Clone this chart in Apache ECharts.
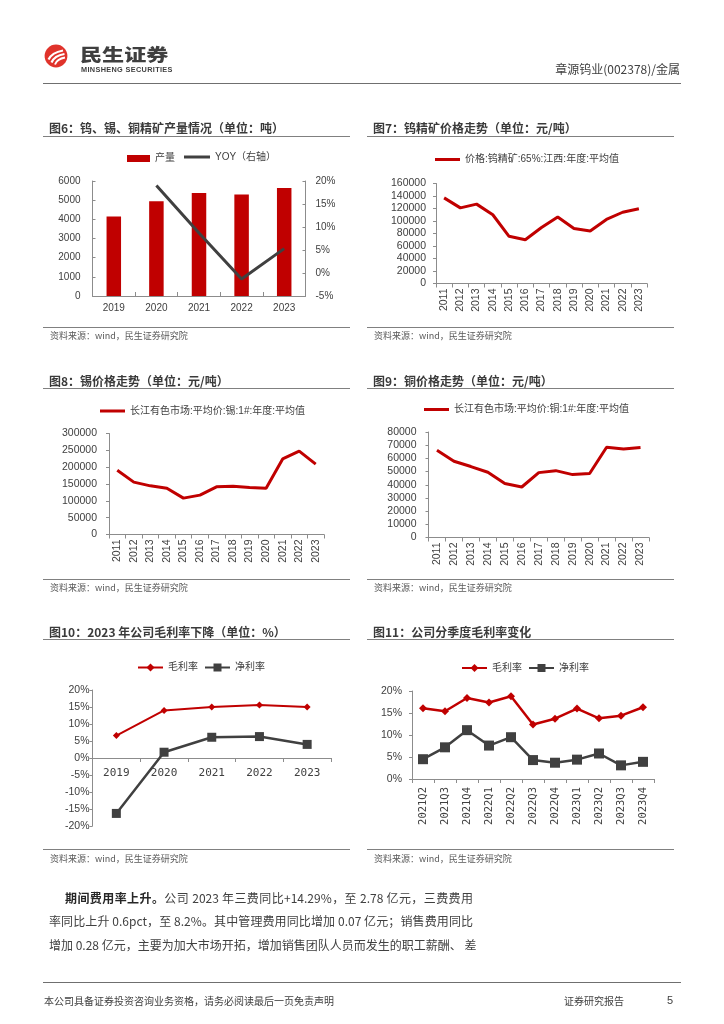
<!DOCTYPE html>
<html><head><meta charset="utf-8">
<script src="https://cdn.jsdelivr.net/npm/echarts@6/dist/echarts.min.js"></script>
<style>
html,body{margin:0;padding:0;background:#fff;}
#page{position:relative;width:724px;height:1024px;overflow:hidden;font-family:'Noto Sans CJK SC','Liberation Sans',sans-serif;color:#404040;}
#chart{position:absolute;left:0;top:0;width:724px;height:1024px;}
.t{position:absolute;white-space:nowrap;pointer-events:none;}
.hr{position:absolute;height:1px;background:#808080;}
.ttl{font-size:12px;font-weight:bold;line-height:16px;color:#3a3a3a;}
.src{font-size:9px;line-height:12px;color:#595959;}
.p{font-size:12px;line-height:18px;color:#404040;text-align:justify;text-align-last:justify;}
</style></head>
<body><div id="page">
<div id="chart"></div>

<svg class="t" style="left:44px;top:44px" width="24" height="24" viewBox="0 0 24 24">
<circle cx="12" cy="12" r="11.4" fill="#E0332B"/>
<path d="M4.5 15.5 Q8 8.5 19 6.5" stroke="#fff" stroke-width="2.2" fill="none"/>
<path d="M7.5 18.5 Q10.5 11.5 20.5 10" stroke="#fff" stroke-width="2.2" fill="none"/>
<path d="M11 20.5 Q13 15 21 13.5" stroke="#fff" stroke-width="2" fill="none"/>
</svg>
<div class="t" style="left:80px;top:44px;font-size:17px;line-height:20px;font-weight:900;color:#3f3f3f;transform:scale(1.3,1);transform-origin:0 0">民生证券</div>
<div class="t" style="left:81px;top:66px;font-size:7.3px;line-height:8px;font-weight:bold;color:#3f3f3f;letter-spacing:0.35px;font-family:'Liberation Sans',sans-serif;">MINSHENG SECURITIES</div>
<div class="t" style="right:44px;top:61px;font-size:12px;line-height:15px;color:#404040">章源钨业(002378)/金属</div>
<div class="hr" style="left:43px;top:83px;width:638px;background:#6f6f6f"></div>

<div class="t ttl" style="left:49px;top:120px">图6：钨、锡、铜精矿产量情况（单位：吨）</div>
<div class="hr" style="left:43px;top:136px;width:307px"></div>
<div class="t ttl" style="left:373px;top:120px">图7：钨精矿价格走势（单位：元/吨）</div>
<div class="hr" style="left:367px;top:136px;width:307px"></div>
<div class="hr" style="left:43px;top:327px;width:307px"></div>
<div class="t src" style="left:50px;top:330px">资料来源：wind，民生证券研究院</div>
<div class="hr" style="left:367px;top:327px;width:307px"></div>
<div class="t src" style="left:374px;top:330px">资料来源：wind，民生证券研究院</div>

<div class="t ttl" style="left:49px;top:373px">图8：锡价格走势（单位：元/吨）</div>
<div class="hr" style="left:43px;top:388px;width:307px"></div>
<div class="t ttl" style="left:373px;top:373px">图9：铜价格走势（单位：元/吨）</div>
<div class="hr" style="left:367px;top:388px;width:307px"></div>
<div class="hr" style="left:43px;top:579px;width:307px"></div>
<div class="t src" style="left:50px;top:582px">资料来源：wind，民生证券研究院</div>
<div class="hr" style="left:367px;top:579px;width:307px"></div>
<div class="t src" style="left:374px;top:582px">资料来源：wind，民生证券研究院</div>

<div class="t ttl" style="left:49px;top:624px">图10：2023 年公司毛利率下降（单位：%）</div>
<div class="hr" style="left:43px;top:639px;width:307px"></div>
<div class="t ttl" style="left:373px;top:624px">图11：公司分季度毛利率变化</div>
<div class="hr" style="left:367px;top:639px;width:307px"></div>
<div class="hr" style="left:43px;top:849px;width:307px"></div>
<div class="t src" style="left:50px;top:853px">资料来源：wind，民生证券研究院</div>
<div class="hr" style="left:367px;top:849px;width:307px"></div>
<div class="t src" style="left:374px;top:853px">资料来源：wind，民生证券研究院</div>

<div class="t p" style="left:65px;top:889px;width:408px"><b style="color:#262626">期间费用率上升。</b>公司 2023 年三费同比+14.29%，至 2.78 亿元，三费费用</div>
<div class="t p" style="left:49px;top:912px;width:424px">率同比上升 0.6pct，至 8.2%。其中管理费用同比增加 0.07 亿元；销售费用同比</div>
<div class="t p" style="left:49px;top:936px;width:424px">增加 0.28 亿元，主要为加大市场开拓，增加销售团队人员而发生的职工薪酬、 差</div>

<div class="hr" style="left:43px;top:982px;width:638px;background:#6f6f6f"></div>
<div class="t" style="left:44px;top:994px;font-size:10px;line-height:14px;color:#404040">本公司具备证券投资咨询业务资格，请务必阅读最后一页免责声明</div>
<div class="t" style="left:564px;top:994px;font-size:10px;line-height:14px;color:#404040">证券研究报告</div>
<div class="t" style="left:667px;top:993px;font-size:11px;line-height:14px;color:#404040;font-family:'Liberation Sans',sans-serif">5</div>
</div>
<script>
// ---- data ----
const fig6Years = ['2019','2020','2021','2022','2023'];
const fig6Output = [4150, 4940, 5370, 5300, 5630];
const fig6Yoy = [null, 19.0, 8.7, -1.3, 5.3];

const years13 = ['2011','2012','2013','2014','2015','2016','2017','2018','2019','2020','2021','2022','2023'];
const tungstenPrice = [137000, 121000, 127000, 110000, 75500, 70000, 89500, 106500, 88000, 84000, 102500, 114000, 119500];
const tinPrice = [191000, 155500, 144500, 137500, 108000, 117000, 141500, 143500, 139500, 137500, 224500, 247500, 209000];
const copperPrice = [66100, 57800, 53800, 49500, 40900, 38300, 49200, 50700, 47700, 48500, 68400, 67100, 68200];

const fig10Years = ['2019','2020','2021','2022','2023'];
const fig10Gross = [6.6, 14.0, 15.0, 15.6, 15.0];
const fig10Net = [-16.3, 1.7, 6.1, 6.3, 4.0];

const quarters = ['2021Q2','2021Q3','2021Q4','2022Q1','2022Q2','2022Q3','2022Q4','2023Q1','2023Q2','2023Q3','2023Q4'];
const qGross = [16.1, 15.4, 18.4, 17.4, 18.8, 12.4, 13.7, 16.0, 13.8, 14.4, 16.3];
const qNet = [4.5, 7.2, 11.1, 7.6, 9.5, 4.3, 3.7, 4.4, 5.8, 3.1, 3.9];

// ---- styles ----
const RED = '#C00000', DARK = '#404040', AX = '#8c8c8c', LBL = '#404040';
const FONT = "'Liberation Sans','Noto Sans CJK SC',sans-serif";
const MONO = "'DejaVu Sans Mono','Liberation Mono',monospace";
const plain = v => String(v);
const pct = v => v + '%';

function catX(grid, data, o) {
  return Object.assign({
    gridIndex: grid, type: 'category', data: data, boundaryGap: true,
    axisLine: {show: true, onZero: false, lineStyle: {color: AX, width: 1}},
    axisTick: {show: true, length: 4, lineStyle: {color: AX}},
    axisLabel: {color: LBL, fontSize: 10.5, fontFamily: FONT, rotate: 90, margin: 5}
  }, o || {});
}
function valY(grid, min, max, interval, o) {
  return Object.assign({
    gridIndex: grid, type: 'value', min: min, max: max, interval: interval,
    splitLine: {show: false},
    axisLine: {show: true, lineStyle: {color: AX, width: 1}},
    axisTick: {show: true, length: 3, lineStyle: {color: AX}},
    axisLabel: {color: LBL, fontSize: 10.5, fontFamily: FONT, margin: 10, formatter: plain}
  }, o || {});
}
function leg(name, left, top, o) {
  return Object.assign({
    data: [name], left: left, top: top, itemWidth: 25, itemHeight: 10, itemGap: 0,
    textStyle: {color: LBL, fontSize: 10, fontFamily: FONT}, selectedMode: false, padding: 0
  }, o || {});
}
const lineIcon = {icon: 'rect', itemWidth: 25, itemHeight: 3};

const chart = echarts.init(document.getElementById('chart'), null, {renderer: 'canvas'});
chart.setOption({
  animation: false,
  textStyle: {fontFamily: FONT},
  grid: [
    {left: 92.5, top: 181, width: 213, height: 115},
    {left: 436, top: 183.5, width: 211, height: 100},
    {left: 109, top: 433.5, width: 215, height: 101},
    {left: 428.5, top: 432, width: 220.5, height: 105.5},
    {left: 92.5, top: 690, width: 238.5, height: 136},
    {left: 412, top: 691, width: 242, height: 88}
  ],
  xAxis: [
    catX(0, fig6Years, {axisTick: {show: true, inside: true, length: 4, lineStyle: {color: AX}},
      axisLabel: {color: LBL, fontSize: 10, fontFamily: FONT, margin: 7}}),
    catX(1, years13),
    catX(2, years13),
    catX(3, years13),
    catX(4, fig10Years, {offset: -68,
      axisLabel: {color: LBL, fontSize: 11, fontFamily: MONO, margin: 10}}),
    catX(5, quarters, {axisLabel: {color: LBL, fontSize: 10.5, fontFamily: MONO, rotate: 90, margin: 8}})
  ],
  yAxis: [
    valY(0, 0, 6000, 1000, {axisTick: {show: true, inside: true, length: 3, lineStyle: {color: AX}},
      axisLabel: {color: LBL, fontSize: 10, fontFamily: FONT, margin: 12, formatter: plain}}),
    valY(0, -5, 20, 5, {position: 'right', axisTick: {show: true, inside: true, length: 3, lineStyle: {color: AX}},
      axisLabel: {color: LBL, fontSize: 10, fontFamily: FONT, margin: 10, formatter: pct}}),
    valY(1, 0, 160000, 20000),
    valY(2, 0, 300000, 50000, {axisLabel: {color: LBL, fontSize: 10.5, fontFamily: FONT, margin: 12, formatter: plain}}),
    valY(3, 0, 80000, 10000, {axisLabel: {color: LBL, fontSize: 10.5, fontFamily: FONT, margin: 12, formatter: plain}}),
    valY(4, -20, 20, 5, {axisLabel: {color: LBL, fontSize: 10.5, fontFamily: FONT, margin: 3, formatter: pct}}),
    valY(5, 0, 20, 5, {axisLabel: {color: LBL, fontSize: 10.5, fontFamily: FONT, margin: 10, formatter: pct}})
  ],
  legend: [
    leg('产量', 127, 153.5, {icon: 'rect', itemWidth: 23, itemHeight: 7}),
    leg('YOY（右轴）', 184, 152, Object.assign({}, lineIcon, {itemWidth: 26})),
    leg('价格:钨精矿:65%:江西:年度:平均值', 435, 154.5, lineIcon),
    leg('长江有色市场:平均价:锡:1#:年度:平均值', 100, 406, lineIcon),
    leg('长江有色市场:平均价:铜:1#:年度:平均值', 424, 404.5, lineIcon),
    leg('毛利率', 137, 662.5),
    leg('净利率', 204, 662.5),
    leg('毛利率 ', 461, 663),
    leg('净利率 ', 528, 663)
  ],
  series: [
    {name: '产量', type: 'bar', xAxisIndex: 0, yAxisIndex: 0, data: fig6Output, barWidth: 14.5,
      itemStyle: {color: RED}},
    {name: 'YOY（右轴）', type: 'line', xAxisIndex: 0, yAxisIndex: 1, data: fig6Yoy, symbol: 'none',
      lineStyle: {color: DARK, width: 3}, itemStyle: {color: DARK}},
    {name: '价格:钨精矿:65%:江西:年度:平均值', type: 'line', xAxisIndex: 1, yAxisIndex: 2, data: tungstenPrice,
      symbol: 'none', lineStyle: {color: RED, width: 3}, itemStyle: {color: RED}},
    {name: '长江有色市场:平均价:锡:1#:年度:平均值', type: 'line', xAxisIndex: 2, yAxisIndex: 3, data: tinPrice,
      symbol: 'none', lineStyle: {color: RED, width: 3}, itemStyle: {color: RED}},
    {name: '长江有色市场:平均价:铜:1#:年度:平均值', type: 'line', xAxisIndex: 3, yAxisIndex: 4, data: copperPrice,
      symbol: 'none', lineStyle: {color: RED, width: 3}, itemStyle: {color: RED}},
    {name: '毛利率', type: 'line', xAxisIndex: 4, yAxisIndex: 5, data: fig10Gross,
      symbol: 'diamond', symbolSize: 7, lineStyle: {color: RED, width: 2}, itemStyle: {color: RED}},
    {name: '净利率', type: 'line', xAxisIndex: 4, yAxisIndex: 5, data: fig10Net,
      symbol: 'rect', symbolSize: 9, lineStyle: {color: DARK, width: 2.5}, itemStyle: {color: DARK}},
    {name: '毛利率 ', type: 'line', xAxisIndex: 5, yAxisIndex: 6, data: qGross,
      symbol: 'diamond', symbolSize: 8, lineStyle: {color: RED, width: 2.5}, itemStyle: {color: RED}},
    {name: '净利率 ', type: 'line', xAxisIndex: 5, yAxisIndex: 6, data: qNet,
      symbol: 'rect', symbolSize: 10, lineStyle: {color: DARK, width: 2.5}, itemStyle: {color: DARK}}
  ]
});
</script>
</body></html>
